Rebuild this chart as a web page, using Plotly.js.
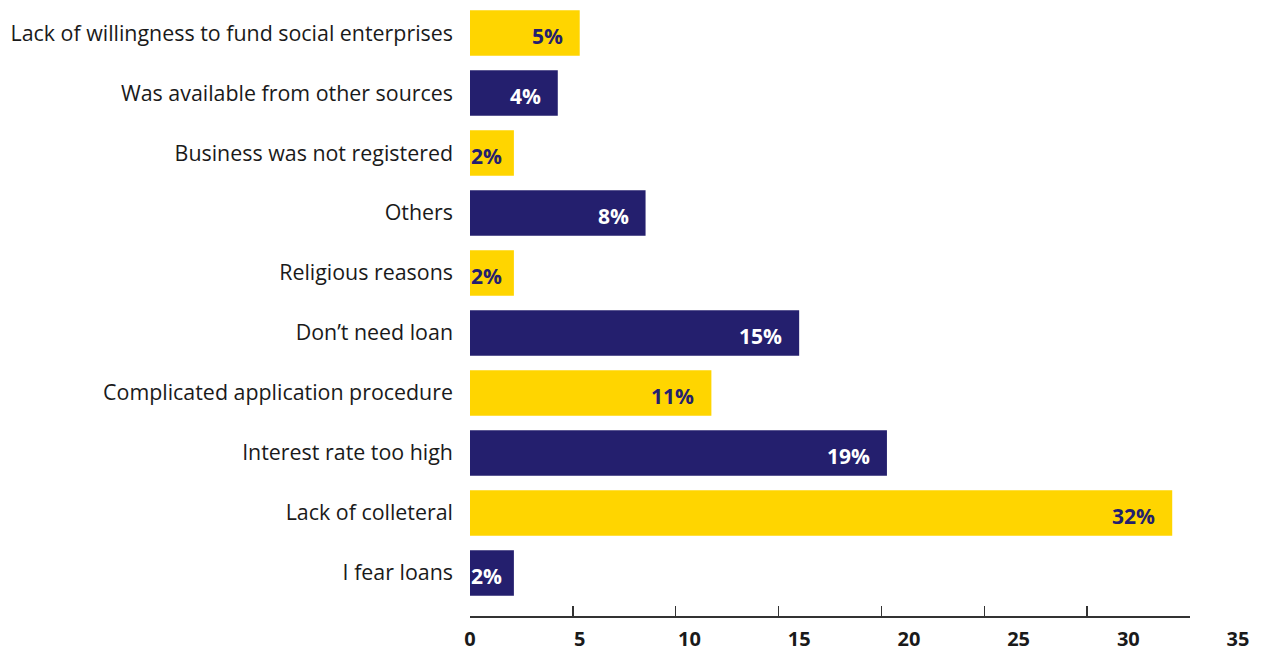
<!DOCTYPE html>
<html>
<head>
<meta charset="utf-8">
<script src="https://cdn.plot.ly/plotly-3.0.1.min.js"></script>
<style>html,body{margin:0;padding:0;background:#fff;}#chart{width:1261px;height:651px;}</style>
</head>
<body>
<div id="chart"></div>
<script>
// Data (bottom to top)
const categories = [
  "I fear loans",
  "Lack of colleteral",
  "Interest rate too high",
  "Complicated application procedure",
  "Don\u2019t need loan",
  "Religious reasons",
  "Others",
  "Business was not registered",
  "Was available from other sources",
  "Lack of willingness to fund social enterprises"
];
const values = [2, 32, 19, 11, 15, 2, 8, 2, 4, 5];
const xTickVals = [0, 5, 10, 15, 20, 25, 30, 35];

const NAVY = "#241F6E";
const YELLOW = "#FFD500";
const barColors = categories.map((c, i) => i % 2 === 0 ? NAVY : YELLOW);
const textColors = categories.map((c, i) => i % 2 === 0 ? "#ffffff" : NAVY);

const bars = {
  type: "bar",
  orientation: "h",
  y: categories,
  x: values,
  marker: {color: barColors, line: {width: 0}},
  hoverinfo: "skip",
  showlegend: false
};
const dummy = {type: "scatter", x: [], y: [], xaxis: "x2", yaxis: "y", hoverinfo: "skip", showlegend: false};

const annotations = values.map((v, i) => ({
  x: v, y: categories[i], xref: "x", yref: "y",
  text: v + "%", showarrow: false, xanchor: "right", yanchor: "middle",
  xshift: v < 3 ? -10 : -15, yshift: -3,
  font: {family: "Open Sans, sans-serif", size: 21, color: textColors[i], weight: "bold"}
}));

const layout = {
  width: 1261, height: 651,
  margin: {l: 470, r: 1, t: 3, b: 35, pad: 0},
  paper_bgcolor: "#fff", plot_bgcolor: "rgba(0,0,0,0)",
  bargap: 0.24,
  font: {family: "Open Sans, sans-serif", color: "#1a1a1a"},
  xaxis: {
    range: [0, 36], tickvals: xTickVals, ticks: "", showline: false, showgrid: false, zeroline: false,
    tickfont: {size: 20, weight: "bold", color: "#1a1a1a"}, ticklabelstandoff: 9, fixedrange: true
  },
  xaxis2: {
    domain: [0, 720/790], range: [0, 7], tick0: 0, dtick: 1, anchor: "y",
    ticks: "inside", ticklen: 10, tickwidth: 1.5, tickcolor: "#333",
    showline: true, linecolor: "#333", linewidth: 1.5,
    showticklabels: false, showgrid: false, zeroline: false, fixedrange: true
  },
  yaxis: {
    type: "category", categoryorder: "array", categoryarray: categories,
    range: [-0.717, 9.5], ticks: "", showline: false, showgrid: false, zeroline: false,
    tickfont: {size: 21.4, color: "#1a1a1a"}, ticklabelstandoff: 16, fixedrange: true
  },
  annotations: annotations
};

Plotly.newPlot("chart", [bars, dummy], layout, {displayModeBar: false, staticPlot: true});
</script>
</body>
</html>
